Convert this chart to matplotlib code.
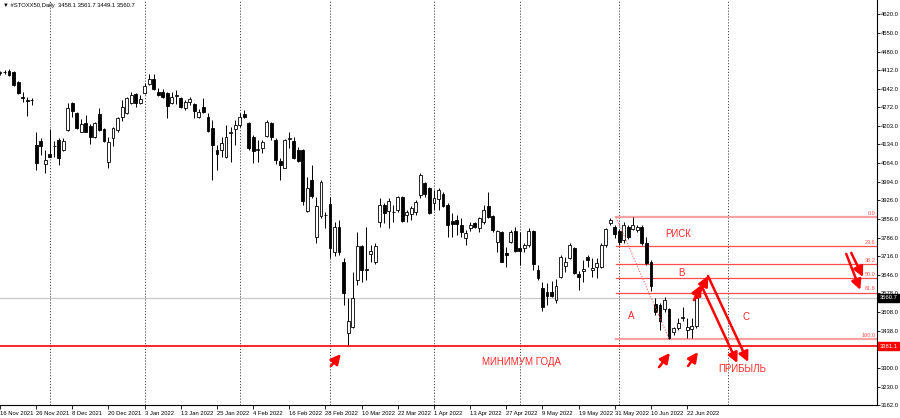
import matplotlib
matplotlib.use("Agg")
import matplotlib.pyplot as plt
from matplotlib.transforms import blended_transform_factory

plt.rcParams['font.family'] = ['Liberation Sans', 'DejaVu Sans']

# ---------------- data ----------------
opens = [4400, 4404, 4407, 4404, 4366, 4310, 4299, 4299, 4131, 4146,
         4060, 4098, 4128, 4150, 4113, 4187, 4288, 4251, 4180, 4213,
         4202, 4161, 4247, 4191, 4068, 4157, 4187, 4236, 4251, 4288,
         4322, 4288, 4325, 4359, 4378, 4329, 4329, 4325, 4288, 4314,
         4307, 4269, 4292, 4284, 4236, 4273, 4236, 4195, 4113, 4113,
         4087, 4176, 4191, 4206, 4247, 4213, 4161, 4113, 4120, 4165,
         4213, 4150, 4072, 4046, 4154, 4146, 4113, 4113, 3885, 4001,
         3788, 3867, 3870, 3911, 3732, 3826, 3695, 3430, 3452, 3628,
         3755, 3665, 3725, 3695, 3844, 3908, 3885, 3881, 3889, 3937,
         3870, 3874, 3881, 3945, 3990, 3971, 3915, 3930, 3949, 3908,
         3848, 3852, 3833, 3784, 3822, 3840, 3822, 3844, 3904, 3867,
         3769, 3807, 3729, 3769, 3811, 3747, 3747, 3758, 3811, 3665,
         3598, 3583, 3583, 3553, 3639, 3680, 3710, 3747, 3650, 3661,
         3714, 3665, 3676, 3676, 3758, 3840, 3826, 3811, 3777, 3826,
         3818, 3814, 3826, 3766, 3695, 3538, 3535, 3520, 3520, 3434,
         3449, 3486, 3441, 3445, 3458.1]
highs = [4407, 4411, 4415, 4407, 4370, 4329, 4310, 4307, 4180, 4157,
         4113, 4191, 4146, 4157, 4157, 4288, 4292, 4254, 4228, 4243,
         4210, 4217, 4269, 4195, 4161, 4198, 4236, 4299, 4310, 4329,
         4325, 4318, 4363, 4396, 4396, 4344, 4340, 4329, 4329, 4337,
         4310, 4299, 4310, 4288, 4266, 4307, 4251, 4225, 4131, 4161,
         4206, 4198, 4225, 4251, 4262, 4217, 4169, 4150, 4150, 4225,
         4217, 4157, 4083, 4154, 4180, 4161, 4124, 4116, 4012, 4057,
         3937, 4001, 3881, 3937, 3844, 3852, 3710, 3561, 3657, 3807,
         3758, 3826, 3758, 3766, 3934, 3915, 3934, 3908, 3941, 3941,
         3889, 3904, 3926, 4027, 3994, 3975, 3964, 3971, 3956, 3915,
         3878, 3870, 3859, 3814, 3844, 3844, 3863, 3908, 3956, 3870,
         3814, 3811, 3751, 3814, 3826, 3807, 3766, 3822, 3814, 3684,
         3620, 3617, 3624, 3632, 3721, 3714, 3766, 3751, 3661, 3702,
         3721, 3710, 3710, 3766, 3822, 3859, 3833, 3818, 3844, 3833,
         3861, 3833, 3833, 3788, 3702, 3561, 3542, 3564, 3523, 3452,
         3486, 3527, 3486, 3486, 3561.7]
lows = [4392, 4396, 4389, 4351, 4323, 4292, 4240, 4281, 4038, 4094,
        4026, 4085, 4087, 4057, 4109, 4184, 4236, 4191, 4178, 4178,
        4135, 4157, 4184, 4142, 4046, 4128, 4180, 4221, 4247, 4286,
        4273, 4286, 4322, 4355, 4337, 4314, 4307, 4232, 4284, 4284,
        4269, 4262, 4281, 4232, 4232, 4251, 4180, 4001, 4038, 4087,
        4083, 4068, 4131, 4198, 4232, 4113, 4064, 4068, 4101, 4161,
        4150, 4060, 4001, 4044, 4120, 4081, 4068, 3908, 3881, 3934,
        3766, 3859, 3822, 3710, 3717, 3721, 3535, 3381.1, 3449, 3609,
        3620, 3628, 3695, 3687, 3826, 3840, 3822, 3844, 3881, 3844,
        3844, 3852, 3870, 3934, 3937, 3874, 3889, 3889, 3900, 3788,
        3788, 3796, 3788, 3758, 3811, 3822, 3807, 3837, 3859, 3807,
        3732, 3694, 3676, 3766, 3732, 3684, 3732, 3751, 3665, 3628,
        3512, 3535, 3564, 3542, 3635, 3658, 3708, 3650, 3590, 3620,
        3676, 3639, 3635, 3674, 3751, 3833, 3784, 3758, 3766, 3781,
        3814, 3807, 3758, 3684, 3587, 3497, 3441, 3508, 3408, 3423,
        3441, 3475, 3412, 3412, 3449.1]
closes = [4404, 4402, 4392, 4355, 4325, 4307, 4295, 4301, 4064, 4128,
          4075, 4087, 4129, 4083, 4146, 4269, 4258, 4195, 4210, 4180,
          4161, 4213, 4187, 4146, 4142, 4195, 4232, 4273, 4307, 4318,
          4288, 4303, 4351, 4378, 4340, 4318, 4310, 4277, 4310, 4316,
          4273, 4292, 4303, 4258, 4254, 4254, 4184, 4131, 4098, 4139,
          4161, 4178, 4206, 4236, 4236, 4120, 4109, 4115, 4142, 4217,
          4161, 4075, 4057, 4150, 4156, 4083, 4072, 3922, 3971, 3941,
          3904, 3994, 3872, 3747, 3826, 3732, 3579, 3475, 3561, 3755,
          3665, 3667, 3736, 3755, 3908, 3878, 3922, 3883, 3937, 3848,
          3881, 3896, 3919, 4020, 3949, 3878, 3934, 3964, 3904, 3833,
          3837, 3837, 3807, 3803, 3833, 3826, 3859, 3889, 3863, 3814,
          3811, 3695, 3721, 3807, 3736, 3736, 3758, 3811, 3687, 3635,
          3527, 3568, 3568, 3605, 3714, 3695, 3758, 3654, 3639, 3669,
          3702, 3673, 3691, 3758, 3818, 3852, 3799, 3769, 3833, 3788,
          3833, 3826, 3766, 3691, 3605, 3508, 3475, 3553, 3412, 3449,
          3467, 3488, 3452, 3456, 3560.7]

date_labels = ["16 Nov 2021", "26 Nov 2021", "8 Dec 2021", "20 Dec 2021",
               "3 Jan 2022", "13 Jan 2022", "25 Jan 2022", "4 Feb 2022",
               "16 Feb 2022", "28 Feb 2022", "10 Mar 2022", "22 Mar 2022",
               "1 Apr 2022", "13 Apr 2022", "27 Apr 2022", "9 May 2022",
               "19 May 2022", "31 May 2022", "10 Jun 2022", "22 Jun 2022"]
label_step = 8
separator_bars = [11, 32, 53, 73, 96, 115, 137, 161]
price_labels = [4620.0, 4550.0, 4480.0, 4412.0, 4342.0, 4272.0, 4203.0,
                4134.0, 4064.0, 3994.0, 3926.0, 3856.0, 3786.0, 3716.0,
                3646.0, 3578.0, 3508.0, 3438.0, 3370.0, 3300.0, 3230.0,
                3162.0]
bid_price = 3560.7
year_min = 3381.1
fib_high = 3861.0
fib_low = 3408.0
fib_levels = [0.0, 23.6, 38.2, 50.0, 61.8, 100.0]
header = "\u25bc #STOXX50,Daily  3458.1 3561.7 3449.1 3560.7"

# ---------------- figure ----------------
W, H = 900, 418
fig = plt.figure(figsize=(W / 100, H / 100), dpi=100)
fig.patch.set_facecolor('white')
ax = fig.add_axes([0, 1 - 405 / H, 877 / W, 405 / H])
ax.set_facecolor('white')

n = len(opens)
xs = list(range(n))
ax.set_xlim(0, 194)
ax.set_ylim(3161.6, 4672.2)

RED = '#ff0000'
TXT_RED = '#ff2a2a'

# separators
for b in separator_bars:
    ax.axvline(b, color='#444444', lw=0.7, ls=(0, (1.2, 1.8)), zorder=1)

# bid line
ax.axhline(bid_price, color='#c8c8c8', lw=0.9, zorder=1)

# candles
ax.vlines(xs, lows, highs, color='black', lw=0.7, zorder=3)
bottoms = [min(o, c) for o, c in zip(opens, closes)]
heights = [max(abs(c - o), 0.8) for o, c in zip(opens, closes)]
faces = ['white' if c >= o else 'black' for o, c in zip(opens, closes)]
ax.bar(xs, heights, bottom=bottoms, width=0.64, color=faces,
       edgecolor='black', linewidth=0.6, zorder=4)

# year minimum line
ax.axhline(year_min, color=RED, lw=1.2, zorder=5)

# fibonacci
fib_start, fib_end = 136.3, 148.0
ax.plot([fib_start, fib_end], [fib_high, fib_low], color='#ff6060',
        lw=0.8, ls=(0, (1, 1.5)), zorder=5)
rng = fib_high - fib_low
for lev in fib_levels:
    yv = fib_high - rng * lev / 100.0
    if lev in (0.0, 100.0):
        ax.plot([fib_start, 194], [yv, yv], color='#f6a3a3', lw=1.6, zorder=2)
    else:
        ax.plot([fib_start, 194], [yv, yv], color='#ff4d4d', lw=0.9, zorder=2)
    ax.text(193.6, yv + 4, f"{lev:.1f}", color='#ff4d4d', fontsize=4,
            ha='right', va='bottom', zorder=6)

# annotations text
ax.text(150.0, 3799, "РИСК", color=TXT_RED, fontsize=7, ha='center', va='center')
ax.text(150.7, 3654, "B", color=TXT_RED, fontsize=7, ha='center', va='center')
ax.text(139.6, 3494, "A", color=TXT_RED, fontsize=7, ha='center', va='center')
ax.text(165.0, 3490, "C", color=TXT_RED, fontsize=7, ha='center', va='center')
ax.text(115.3, 3322, "МИНИМУМ ГОДА", color=TXT_RED, fontsize=7, ha='center', va='center')
ax.text(164.2, 3296, "ПРИБЫЛЬ", color=TXT_RED, fontsize=7, ha='center', va='center')

# arrows (start -> end, in bar index / price)
arrows = [((73.2, 3307), (75.4, 3352)),
          ((145.8, 3303), (148.2, 3356)),
          ((152.2, 3307), (154.4, 3359)),
          ((153.5, 3553), (155.1, 3609)),
          ((154.2, 3561), (156.6, 3643)),
          ((155.1, 3609), (163.1, 3318)),
          ((156.6, 3643), (165.5, 3322)),
          ((187.2, 3725), (190.3, 3591)),
          ((188.3, 3729), (190.9, 3639))]
for (s, e) in arrows:
    ax.annotate('', xy=e, xytext=s,
                arrowprops=dict(arrowstyle='-|>,head_length=0.7,head_width=0.35',
                                color=RED, lw=1.8, shrinkA=0, shrinkB=0,
                                mutation_scale=8.5), zorder=7)

# axes styling
for sp in ('left', 'top'):
    ax.spines[sp].set_visible(False)
for sp in ('right', 'bottom'):
    ax.spines[sp].set_color('black')
    ax.spines[sp].set_linewidth(0.8)

ax.yaxis.tick_right()
ax.set_yticks(price_labels)
ax.set_yticklabels([f"{v:.1f}" for v in price_labels])
ax.tick_params(axis='y', length=2, width=0.6, pad=1, labelsize=4.2, colors='black')

tick_pos = [i * label_step for i in range(len(date_labels))]
ax.set_xticks(tick_pos)
ax.set_xticklabels(date_labels)
ax.tick_params(axis='x', length=3, width=0.6, pad=1, labelsize=4.2, colors='black')
for lab in ax.get_xticklabels():
    lab.set_ha('left')

# price boxes on the axis
tr = blended_transform_factory(ax.transAxes, ax.transData)
ax.text(1.003, bid_price, f"{bid_price:.1f}", transform=tr, fontsize=4.2,
        color='white', ha='left', va='center', zorder=10, clip_on=False,
        bbox=dict(boxstyle='square,pad=0.25', fc='black', ec='black'))
ax.text(1.003, year_min, f"{year_min:.1f}", transform=tr, fontsize=4.2,
        color='white', ha='left', va='center', zorder=10, clip_on=False,
        bbox=dict(boxstyle='square,pad=0.25', fc=RED, ec=RED))

fig.text(3 / W, 1 - 6 / H, header, fontsize=4.2, ha='left', va='center')

fig.savefig('out.png', dpi=100, facecolor='white')
